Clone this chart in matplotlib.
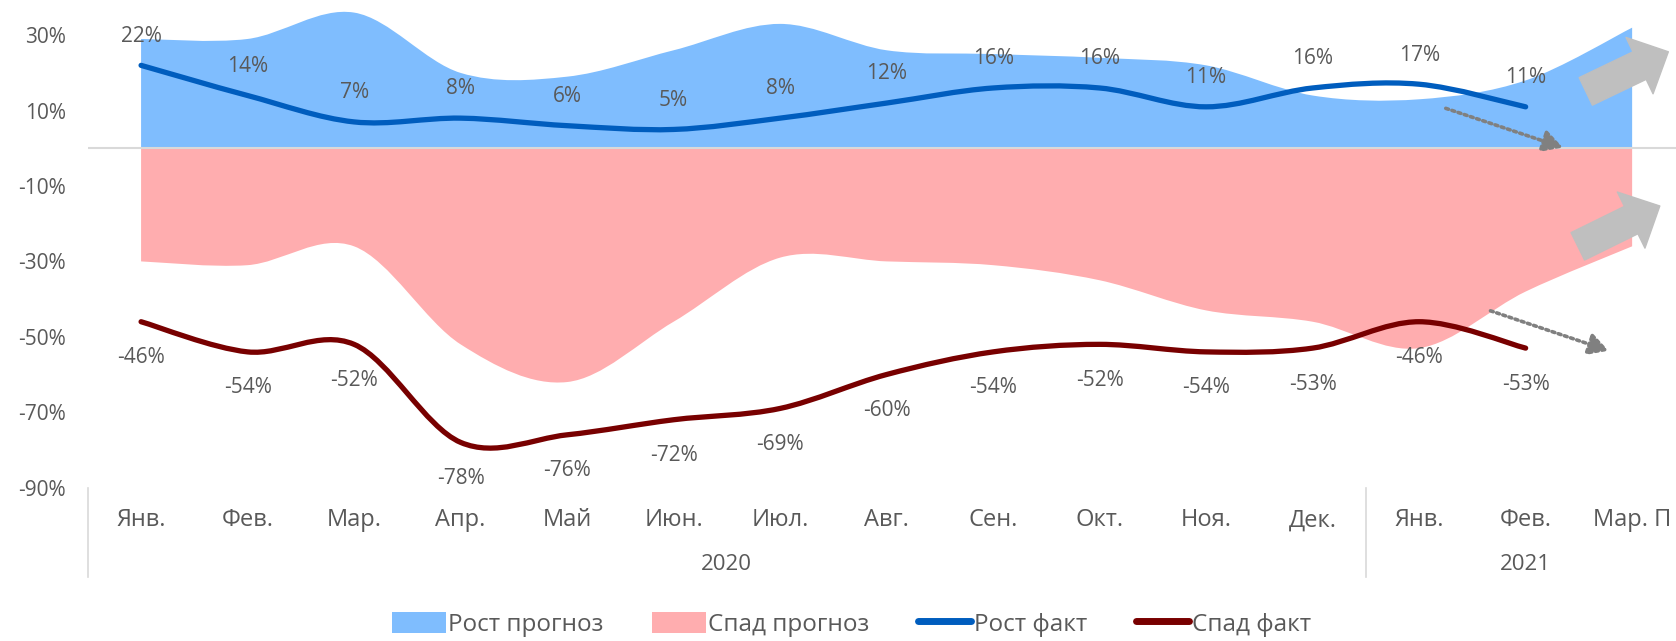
import numpy as np
import matplotlib
matplotlib.use("Agg")
import matplotlib.pyplot as plt
from matplotlib.path import Path
from matplotlib.patches import PathPatch, FancyArrowPatch
from matplotlib.lines import Line2D
from matplotlib.patches import Patch
import matplotlib.transforms as mtransforms

# ДАННЫЕ
months = ['Янв.', 'Фев.', 'Мар.', 'Апр.', 'Май', 'Июн.', 'Июл.', 'Авг.',
          'Сен.', 'Окт.', 'Ноя.', 'Дек.', 'Янв.', 'Фев.', 'Мар. П']
years = ['2020', '2021']
year_spans = [(0, 11), (12, 14)]

growth_forecast = [29, 29, 36, 20, 19, 26, 33, 26, 25, 24, 22, 14, 13, 18, 32]
decline_forecast = [-30, -31, -26, -52, -62, -46, -29, -30, -31, -35, -43, -46, -53, -38, -26]
growth_fact = [22, 14, 7, 8, 6, 5, 8, 12, 16, 16, 11, 16, 17, 11]
decline_fact = [-46, -54, -52, -78, -76, -72, -69, -60, -54, -52, -54, -53, -46, -53]

C_BLUE_AREA = '#7FBDFE'
C_RED_AREA = '#FFADAF'
C_BLUE_LINE = '#005DBE'
C_RED_LINE = '#780000'
C_TEXT = '#595959'
C_GRID = '#D9D9D9'
C_ARROW = '#BFBFBF'

plt.rcParams['font.family'] = ['Open Sans', 'DejaVu Sans']
FS = 15        # цифры
FS_CYR = 17    # кириллица (Century Gothic в оригинале шире)


def smooth_verts(xs, ys):
    """Catmull-Rom -> Bezier (как сглаживание в Excel)"""
    pts = np.column_stack([xs, ys]).astype(float)
    n = len(pts)
    verts = [tuple(pts[0])]
    codes = [Path.MOVETO]
    for i in range(n - 1):
        p0 = pts[max(i - 1, 0)]
        p1 = pts[i]
        p2 = pts[i + 1]
        p3 = pts[min(i + 2, n - 1)]
        c1 = p1 + (p2 - p0) / 6
        c2 = p2 - (p3 - p1) / 6
        verts += [tuple(c1), tuple(c2), tuple(p2)]
        codes += [Path.CURVE4] * 3
    return verts, codes


def smooth_area(ax, values, color):
    x = np.arange(len(values))
    v, c = smooth_verts(x, values)
    verts = [(x[0], 0)] + v + [(x[-1], 0), (x[0], 0)]
    codes = [Path.MOVETO] + [Path.LINETO] + c[1:] + [Path.LINETO, Path.CLOSEPOLY]
    ax.add_patch(PathPatch(Path(verts, codes), facecolor=color, edgecolor='none', zorder=1))


def smooth_line(ax, values, color):
    x = np.arange(len(values))
    v, c = smooth_verts(x, values)
    ax.add_patch(PathPatch(Path(v, c), facecolor='none', edgecolor=color,
                           lw=3.8, capstyle='round', zorder=4))


fig = plt.figure(figsize=(16.76, 6.41), dpi=100)
ax = fig.add_axes([0.0524, 0.2393, 0.9532, 0.7646])

smooth_area(ax, growth_forecast, C_BLUE_AREA)
smooth_area(ax, decline_forecast, C_RED_AREA)
ax.axhline(0, color=C_GRID, lw=1.5, zorder=2)
smooth_line(ax, growth_fact, C_BLUE_LINE)
smooth_line(ax, decline_fact, C_RED_LINE)

# подписи значений
for i, v in enumerate(growth_fact):
    ax.annotate(f'{v}%', (i, v), xytext=(0, 21), textcoords='offset points',
                ha='center', va='center', fontsize=FS, color=C_TEXT, zorder=5)
for i, v in enumerate(decline_fact):
    ax.annotate(f'{v}%', (i, v), xytext=(0, -26), textcoords='offset points',
                ha='center', va='center', fontsize=FS, color=C_TEXT, zorder=5)

# пунктирные стрелки
for start, end in [((12.25, 10.6), (13.35, 0.2)), ((12.67, -43.1), (13.78, -53.7))]:
    ax.annotate('', xy=end, xytext=start,
                arrowprops=dict(arrowstyle='-|>,head_length=0.6,head_width=0.33',
                                color='#808080', lw=2.6, linestyle=(0, (0.8, 1.0)),
                                mutation_scale=20, shrinkA=0, shrinkB=0),
                zorder=6)

# большие серые стрелки
for tail, tip in [((13.565, 15.1), (14.34, 25.6)), ((13.49, -26.0), (14.26, -15.3))]:
    arr = FancyArrowPatch(tail, tip,
                          arrowstyle='simple,head_length=23,head_width=45,tail_width=22',
                          mutation_scale=1, color=C_ARROW, shrinkA=0, shrinkB=0,
                          zorder=6, clip_on=False)
    ax.add_patch(arr)

ax.set_xlim(-0.5, 14.5)
ax.set_ylim(-90, 40)
ax.set_yticks([30, 10, -10, -30, -50, -70, -90])
ax.set_yticklabels([f'{t}%' for t in [30, 10, -10, -30, -50, -70, -90]])
ax.tick_params(axis='y', length=0, pad=16, labelsize=FS, labelcolor=C_TEXT)
ax.set_xticks(np.arange(len(months)))
ax.set_xticklabels(months)
ax.tick_params(axis='x', length=0, pad=15, labelsize=FS_CYR, labelcolor=C_TEXT)
for s in ax.spines.values():
    s.set_visible(False)

# группировка по годам
trans = mtransforms.blended_transform_factory(ax.transData, ax.transAxes)
for x in [-0.5, 11.5, 14.5]:
    ax.add_line(Line2D([x, x], [0, -0.183], transform=trans, color=C_GRID,
                       lw=1.2, clip_on=False))
for label, (a, b) in zip(years, year_spans):
    ax.text((a + b) / 2, -0.157, label, transform=trans, ha='center', va='center',
            fontsize=16, color=C_TEXT)

handles = [Patch(facecolor=C_BLUE_AREA, label='Рост прогноз'),
           Patch(facecolor=C_RED_AREA, label='Спад прогноз'),
           Line2D([], [], color=C_BLUE_LINE, lw=5, solid_capstyle='round', label='Рост факт'),
           Line2D([], [], color=C_RED_LINE, lw=5, solid_capstyle='round', label='Спад факт')]
fig.legend(handles=handles, loc='center', bbox_to_anchor=(0.508, 0.026), ncol=4,
           frameon=False, fontsize=17.5, labelcolor=C_TEXT, handlelength=2.2,
           handleheight=1.0, handletextpad=0.1, columnspacing=2.0)

fig.savefig('out.png', dpi=100)
